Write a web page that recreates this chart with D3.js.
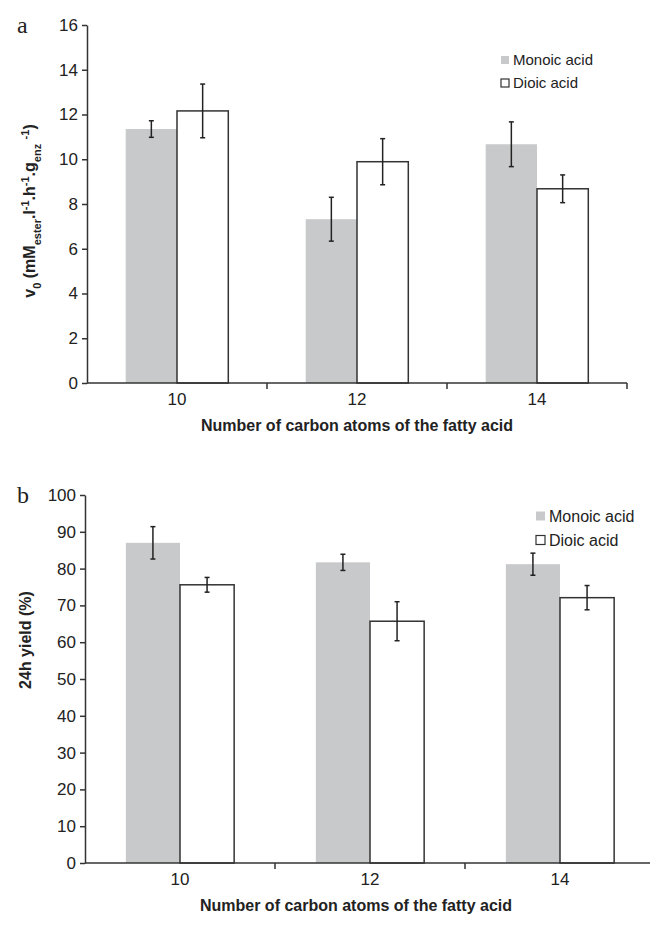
<!DOCTYPE html>
<html lang="en">
<meta charset="utf-8">
<head>
    <script src="https://d3js.org/d3.v7.min.js"></script>
    <style>
        body { margin: 0; background: #fff; }
        text { font-family: "Liberation Sans", Arial, sans-serif; }
    </style>
</head>
<body>
<script>

// categories and series
const categories = ["10", "12", "14"];
const seriesNames = ["Monoic acid", "Dioic acid"];

// panel a: initial rate v0
const rateMonoic = [11.35, 7.32, 10.67];
const rateMonoicErr = [0.37, 0.98, 1.0];
const rateDioic = [12.16, 9.89, 8.68];
const rateDioicErr = [1.2, 1.03, 0.62];
const rateTicks = [0, 2, 4, 6, 8, 10, 12, 14, 16];

// panel b: 24h yield
const yieldMonoic = [87, 81.7, 81.2];
const yieldMonoicErr = [4.4, 2.2, 3.0];
const yieldDioic = [75.6, 65.7, 72.1];
const yieldDioicErr = [2.0, 5.3, 3.3];
const yieldTicks = [0, 10, 20, 30, 40, 50, 60, 70, 80, 90, 100];

const width = 650, height = 928;
const gray = "#c8c9cb", ink = "#333";
const sans = "'Liberation Sans', Arial, sans-serif";

const svg = d3.select("body").append("svg")
    .attr("width", width)
    .attr("height", height);

function drawPanel(opt) {
    const g = svg.append("g");

    const y = d3.scaleLinear()
        .domain([0, d3.max(opt.ticks)])
        .range([opt.bottom, opt.top]);

    const x0 = d3.scaleBand()
        .domain(categories)
        .range([opt.left, opt.right])
        .paddingInner(0.43)
        .paddingOuter(0.215);

    const x1 = d3.scaleBand()
        .domain(seriesNames)
        .range([0, x0.bandwidth()]);

    // rows: one per category and series
    const rows = [];
    categories.forEach((c, i) => {
        rows.push({cat: c, s: seriesNames[0], v: opt.mono[i], e: opt.monoErr[i]});
        rows.push({cat: c, s: seriesNames[1], v: opt.dio[i], e: opt.dioErr[i]});
    });

    // bars
    g.selectAll("rect.bar")
        .data(rows)
        .join("rect")
        .attr("class", "bar")
        .attr("x", d => x0(d.cat) + x1(d.s))
        .attr("y", d => y(d.v))
        .attr("width", x1.bandwidth())
        .attr("height", d => y(0) - y(d.v))
        .attr("fill", d => d.s === seriesNames[0] ? gray : "#fff")
        .attr("stroke", d => d.s === seriesNames[0] ? "none" : ink)
        .attr("stroke-width", 1.5);

    // error bars
    const eb = g.selectAll("g.err")
        .data(rows)
        .join("g")
        .attr("class", "err")
        .attr("transform", d => `translate(${x0(d.cat) + x1(d.s) + x1.bandwidth() / 2},0)`);
    eb.append("line")
        .attr("y1", d => y(d.v - d.e)).attr("y2", d => y(d.v + d.e))
        .attr("stroke", "#222").attr("stroke-width", 1.5);
    eb.selectAll("line.cap")
        .data(d => [d.v - d.e, d.v + d.e])
        .join("line")
        .attr("class", "cap")
        .attr("x1", -2.5).attr("x2", 2.5)
        .attr("y1", d => y(d)).attr("y2", d => y(d))
        .attr("stroke", "#222").attr("stroke-width", 1.5);

    // y axis
    const ya = g.append("g")
        .attr("transform", `translate(${opt.left},0)`)
        .call(d3.axisLeft(y).tickValues(opt.ticks).tickSize(5).tickSizeOuter(0).tickPadding(4));
    ya.attr("font-family", sans);
    ya.select(".domain").attr("stroke", ink).attr("stroke-width", 1.5);
    ya.selectAll(".tick line").attr("stroke", ink).attr("stroke-width", 1.5);
    ya.selectAll(".tick text")
        .attr("font-size", 17)
        .attr("fill", "#222");

    // x axis: labels at band centres, ticks at band edges
    const xa = g.append("g")
        .attr("transform", `translate(0,${y(0)})`)
        .call(d3.axisBottom(x0).tickSize(0).tickPadding(10));
    xa.attr("font-family", sans);
    xa.select(".domain").attr("stroke", ink).attr("stroke-width", 1.5)
        .attr("d", `M${opt.left},0H${opt.right}`);
    xa.selectAll(".tick text")
        .attr("font-size", 17)
        .attr("fill", "#222");
    xa.selectAll("line.edge")
        .data(categories)
        .join("line")
        .attr("class", "edge")
        .attr("x1", (d, i) => opt.left + (i + 1) * x0.step())
        .attr("x2", (d, i) => opt.left + (i + 1) * x0.step())
        .attr("y1", 0).attr("y2", 6)
        .attr("stroke", ink).attr("stroke-width", 1.5);

    // x title
    g.append("text")
        .attr("x", (opt.left + 627) / 2)
        .attr("y", y(0) + opt.titleGap)
        .attr("text-anchor", "middle")
        .attr("font-size", 16)
        .attr("font-weight", "bold")
        .attr("fill", "#222")
        .text("Number of carbon atoms of the fatty acid");

    // y title
    const yt = g.append("text")
        .attr("transform", `translate(${opt.yTitleX},${opt.yTitleY}) rotate(-90)`)
        .attr("text-anchor", "middle")
        .attr("font-size", 16)
        .attr("font-weight", "bold")
        .attr("fill", "#222");
    opt.yTitle.forEach(p => {
        yt.append("tspan")
            .attr("baseline-shift", p.sh || null)
            .attr("font-size", p.sh ? 11 : 16)
            .text(p.t);
    });

    // panel letter
    g.append("text")
        .attr("x", 17).attr("y", opt.top + opt.letterDy)
        .attr("font-size", 24)
        .style("font-family", "'Liberation Serif', 'Times New Roman', serif")
        .attr("fill", "#222")
        .text(opt.letter);

    // legend
    const lg = g.selectAll("g.leg")
        .data(seriesNames)
        .join("g")
        .attr("class", "leg")
        .attr("transform", (d, i) => `translate(${opt.legX},${opt.legY + i * opt.legStep})`);
    lg.append("rect")
        .attr("x", 0).attr("y", -opt.sw / 2)
        .attr("width", opt.sw).attr("height", opt.sw)
        .attr("fill", (d, i) => i === 0 ? gray : "#fff")
        .attr("stroke", (d, i) => i === 0 ? "none" : ink)
        .attr("stroke-width", 1.2);
    lg.append("text")
        .attr("x", opt.sw + 4)
        .attr("dy", "0.35em")
        .attr("font-size", opt.legFont)
        .attr("fill", "#222")
        .text(d => d);
}

drawPanel({
    letter: "a", letterDy: 8,
    left: 87, right: 627, top: 25, bottom: 383,
    ticks: rateTicks,
    mono: rateMonoic, monoErr: rateMonoicErr,
    dio: rateDioic, dioErr: rateDioicErr,
    titleGap: 48, yTitleX: 35, yTitleY: 211,
    yTitle: [
        {t: "v"}, {t: "0", sh: "sub"}, {t: " (mM"}, {t: "ester", sh: "sub"},
        {t: ".l"}, {t: "-1", sh: "super"}, {t: ".h"}, {t: "-1", sh: "super"},
        {t: ".g"}, {t: "enz", sh: "sub"}, {t: " "}, {t: "-1", sh: "super"}, {t: ")"}
    ],
    legX: 501, legY: 60, legStep: 23, sw: 8, legFont: 15
});

drawPanel({
    letter: "b", letterDy: 8,
    left: 85, right: 655, top: 495, bottom: 863,
    ticks: yieldTicks,
    mono: yieldMonoic, monoErr: yieldMonoicErr,
    dio: yieldDioic, dioErr: yieldDioicErr,
    titleGap: 48, yTitleX: 31, yTitleY: 640,
    yTitle: [{t: "24h yield (%)"}],
    legX: 536, legY: 516, legStep: 24, sw: 9, legFont: 16
});

</script>
</body>
</html>
